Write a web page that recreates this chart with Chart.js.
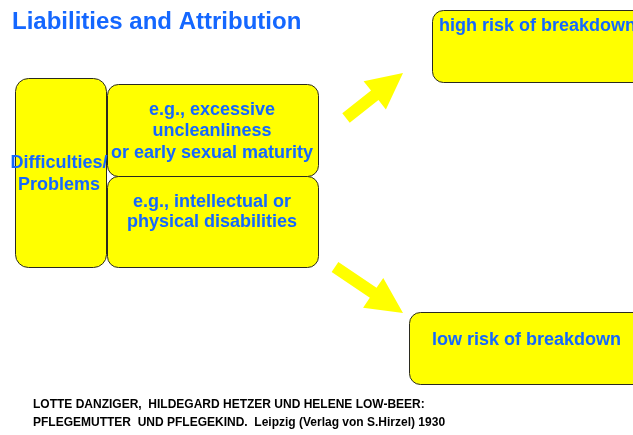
<!DOCTYPE html>
<html lang="en">
<head>
    <meta charset="UTF-8">
    <title>Liabilities and Attribution</title>
    <script src="https://cdn.jsdelivr.net/npm/chart.js"></script>
    <style>
        html, body { margin: 0; padding: 0; background: #fff; }
        #box_chart { width: 633px; height: 435px; position: relative; }
    </style>
</head>
<body>
<div id="box_chart">
    <canvas id="diagrama"></canvas>
</div>
<script>
    // textos do diagrama
    var titulo = 'Liabilities and Attribution';
    var caixaTextos = [
        ['Difficulties/', 'Problems'],
        ['e.g., excessive', 'uncleanliness', 'or early sexual maturity'],
        ['e.g., intellectual or', 'physical disabilities'],
        ['high risk of breakdown'],
        ['low risk of breakdown']
    ];
    // caixas em coordenadas do diagrama: [x0, y0, x1, y1]
    var caixaX0 = [15, 107, 107, 432, 409];
    var caixaY0 = [78, 84, 176, 10, 312];
    var caixaX1 = [106, 318, 318, 660, 660];
    var caixaY1 = [267, 176, 267, 82, 384];
    // setas: cauda -> ponta
    var setaDe = [[346, 118], [335, 267]];
    var setaPara = [[403, 73], [403, 313]];
    var rodape = [
        'LOTTE DANZIGER,  HILDEGARD HETZER UND HELENE LOW-BEER:',
        'PFLEGEMUTTER  UND PFLEGEKIND.  Leipzig (Verlag von S.Hirzel) 1930'
    ];

    var azul = '#1467ff';
    var amarelo = '#ffff00';

    var desenhoPlugin = {
        id: 'desenho',
        afterDatasetsDraw: function (chart) {
            var ctx = chart.ctx;
            var sx = chart.scales.x;
            var sy = chart.scales.y;
            function px(v) { return sx.getPixelForValue(v); }
            function py(v) { return sy.getPixelForValue(v); }

            ctx.save();

            // titulo
            ctx.fillStyle = azul;
            ctx.font = 'bold 24px "Liberation Sans", Arial, sans-serif';
            ctx.textBaseline = 'alphabetic';
            ctx.textAlign = 'left';
            ctx.fillText(titulo, px(12), py(29));

            // setas
            for (var s = 0; s < setaDe.length; s++) {
                var x0 = px(setaDe[s][0]), y0 = py(setaDe[s][1]);
                var x1 = px(setaPara[s][0]), y1 = py(setaPara[s][1]);
                var dx = x1 - x0, dy = y1 - y0;
                var len = Math.sqrt(dx * dx + dy * dy);
                var ux = dx / len, uy = dy / len;
                var nx = -uy, ny = ux;
                var haste = 6, cabeca = 18, compCab = 36;
                var bx = x1 - ux * compCab, by = y1 - uy * compCab;
                ctx.beginPath();
                ctx.moveTo(x0 + nx * haste, y0 + ny * haste);
                ctx.lineTo(bx + nx * haste, by + ny * haste);
                ctx.lineTo(bx + nx * cabeca, by + ny * cabeca);
                ctx.lineTo(x1, y1);
                ctx.lineTo(bx - nx * cabeca, by - ny * cabeca);
                ctx.lineTo(bx - nx * haste, by - ny * haste);
                ctx.lineTo(x0 - nx * haste, y0 - ny * haste);
                ctx.closePath();
                ctx.fillStyle = amarelo;
                ctx.fill();
            }

            // caixas
            for (var i = 0; i < caixaTextos.length; i++) {
                var l = px(caixaX0[i]), t = py(caixaY0[i]);
                var r = px(caixaX1[i]), b = py(caixaY1[i]);
                ctx.beginPath();
                ctx.roundRect(l + 0.5, t + 0.5, r - l, b - t, i == 0 ? 13 : 11);
                ctx.fillStyle = amarelo;
                ctx.fill();
                ctx.lineWidth = 1;
                ctx.strokeStyle = '#2a2a20';
                ctx.stroke();
            }

            // textos das caixas
            ctx.fillStyle = azul;
            ctx.textBaseline = 'middle';
            ctx.font = 'bold 18px "Liberation Sans", Arial, sans-serif';
            ctx.textAlign = 'center';
            var centros = [[59, 163], [212, 110], [212, 202]];
            var passo = [22, 21.5, 20.5];
            for (var c = 0; c < 3; c++) {
                for (var k = 0; k < caixaTextos[c].length; k++) {
                    ctx.fillText(caixaTextos[c][k], px(centros[c][0]), py(centros[c][1] + k * passo[c]));
                }
            }
            ctx.textAlign = 'left';
            ctx.fillText(caixaTextos[3][0], px(439), py(26));
            ctx.fillText(caixaTextos[4][0], px(432), py(340));

            // rodape
            ctx.fillStyle = '#000';
            ctx.font = 'bold 12px "Liberation Sans", Arial, sans-serif';
            ctx.fillText(rodape[0], px(33), py(405));
            ctx.fillText(rodape[1], px(33), py(423));

            ctx.restore();
        }
    };

    var ctx = document.getElementById('diagrama').getContext('2d');
    var grafico = new Chart(ctx, {
        type: 'scatter',
        data: { datasets: [{ data: [], pointRadius: 0 }] },
        options: {
            responsive: true,
            maintainAspectRatio: false,
            animation: false,
            layout: { padding: 0 },
            plugins: { legend: { display: false }, tooltip: { enabled: false } },
            scales: {
                x: { type: 'linear', min: 0, max: 633, display: false },
                y: { type: 'linear', min: 0, max: 435, reverse: true, display: false }
            }
        },
        plugins: [desenhoPlugin]
    });
</script>
</body>
</html>
